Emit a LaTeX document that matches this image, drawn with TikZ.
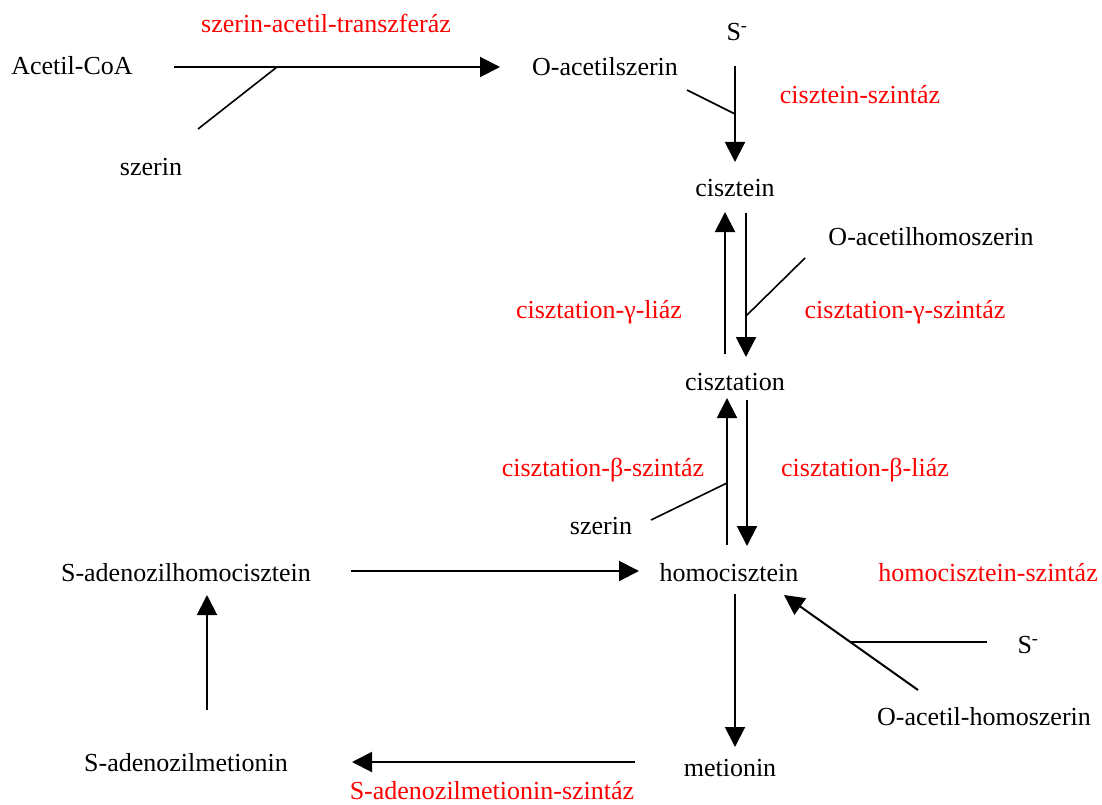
\documentclass[tikz,border=0pt]{standalone}
\usepackage{fontspec}
\setmainfont{Liberation Serif}
\usepackage{tikz}
\usetikzlibrary{arrows.meta}
\definecolor{enzymered}{HTML}{FF0000}
\definecolor{bodytext}{HTML}{000000}

\begin{document}
\begin{tikzpicture}[x=1pt, y=-1pt,
    every node/.style={font=\fontsize{26}{30}\selectfont, inner sep=0pt, color=bodytext},
    enzyme/.style={color=enzymered},
    reac/.style={line width=2pt, -{Triangle[length=20pt,width=20pt]}},
    side/.style={line width=1.6pt}]
    \useasboundingbox (0,0) rectangle (1102,805);

    % Metabolites
    \node (acoa)  at (72,66)   {Acetil-CoA};
    \node (szer1) at (151,167) {szerin};
    \node (oas)   at (605,67)  {O-acetilszerin};
    \node (sm1)   at (737,32)  {S\textsuperscript{-}};
    \node (cys)   at (735,188) {cisztein};
    \node (oahs1) at (931,237) {O-acetilhomoszerin};
    \node (cth)   at (735,382) {cisztation};
    \node (szer2) at (601,526) {szerin};
    \node (sah)   at (186,573) {S-adenozilhomocisztein};
    \node (hcy)   at (729,573) {homocisztein};
    \node (sm2)   at (1028,645) {S\textsuperscript{-}};
    \node (oahs2) at (984,717) {O-acetil-homoszerin};
    \node (met)   at (730,768) {metionin};
    \node (sam)   at (186,763) {S-adenozilmetionin};

    % Enzymes (red)
    \node[enzyme] (sat)   at (326,23)  {szerin-acetil-transzferáz};
    \node[enzyme] (csyn)  at (860,95)  {cisztein-szintáz};
    \node[enzyme] (cgl)   at (599,312) {cisztation-γ-liáz};
    \node[enzyme] (cgs)   at (905,312) {cisztation-γ-szintáz};
    \node[enzyme] (cbs)   at (603,470) {cisztation-β-szintáz};
    \node[enzyme] (cbl)   at (865,470) {cisztation-β-liáz};
    \node[enzyme] (hcsyn) at (988,573) {homocisztein-szintáz};
    \node[enzyme] (sams)  at (492,791) {S-adenozilmetionin-szintáz};

    % Arrow end points
    \coordinate (a1s) at (174,67);  \coordinate (a1e) at (500,67);
    \coordinate (b1s) at (198,129); \coordinate (b1e) at (277,67);
    \coordinate (a2s) at (735,66);  \coordinate (a2e) at (735,162);
    \coordinate (b2s) at (687,90);  \coordinate (b2e) at (735,114);
    \coordinate (a3s) at (725,354); \coordinate (a3e) at (725,212);
    \coordinate (a4s) at (746,213); \coordinate (a4e) at (746,357);
    \coordinate (b4s) at (805,258); \coordinate (b4e) at (746,316);
    \coordinate (a5s) at (727,545); \coordinate (a5e) at (727,398);
    \coordinate (a6s) at (747,400); \coordinate (a6e) at (747,546);
    \coordinate (b5s) at (651,520); \coordinate (b5e) at (727,483);
    \coordinate (a7s) at (351,571); \coordinate (a7e) at (639,571);
    \coordinate (a8s) at (735,594); \coordinate (a8e) at (735,747);
    \coordinate (a9s) at (918,690); \coordinate (a9e) at (784,595);
    \coordinate (b9s) at (851,642); \coordinate (b9e) at (987,642);
    \coordinate (a10s) at (635,762); \coordinate (a10e) at (352,762);
    \coordinate (a11s) at (207,710); \coordinate (a11e) at (207,595);

    % Reactions
    \draw[reac] (a1s) -- (a1e);
    \draw[side] (b1s) -- (b1e);
    \draw[reac] (a2s) -- (a2e);
    \draw[side] (b2s) -- (b2e);
    \draw[reac] (a3s) -- (a3e);
    \draw[reac] (a4s) -- (a4e);
    \draw[side] (b4s) -- (b4e);
    \draw[reac] (a5s) -- (a5e);
    \draw[reac] (a6s) -- (a6e);
    \draw[side] (b5s) -- (b5e);
    \draw[reac] (a7s) -- (a7e);
    \draw[reac] (a8s) -- (a8e);
    \draw[reac] (a9s) -- (a9e);
    \draw[side] (b9s) -- (b9e);
    \draw[reac] (a10s) -- (a10e);
    \draw[reac] (a11s) -- (a11e);
\end{tikzpicture}
\end{document}
